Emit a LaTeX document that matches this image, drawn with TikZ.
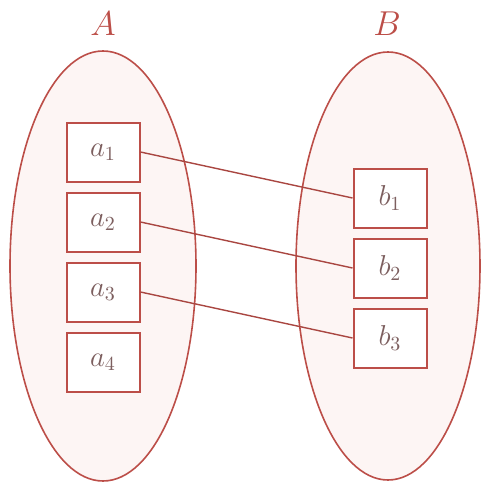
\documentclass[tikz,border=0pt]{standalone}
\usepackage{amsmath}
\usetikzlibrary{shapes.geometric, positioning}

\definecolor{setred}{RGB}{188,78,72}
\definecolor{setfill}{RGB}{253,245,244}
\definecolor{elemtext}{RGB}{125,95,95}

\begin{document}
\begin{tikzpicture}[
    x=0.5pt, y=-0.5pt,
    node distance=4.5pt,
    % Estilos
    setshape/.style={ellipse, draw=setred, fill=setfill, line width=0.8pt, inner sep=0pt},
    elembox/.style={rectangle, draw=setred, fill=white, line width=1pt, minimum width=36.5pt, minimum height=29.5pt, inner sep=0pt, text=elemtext, font=\Large},
    setlabel/.style={text=setred, font=\LARGE},
    mapline/.style={draw=setred!90!black, line width=0.7pt}
]
\useasboundingbox (0,0) rectangle (482,483);

% -------------------------
% CONJUNTOS
% -------------------------
\node[setshape, minimum width=93pt, minimum height=215pt] (setA) at (103,266) {};
\node[setshape, minimum width=92pt, minimum height=214pt] (setB) at (388,266) {};

\node[setlabel] (labA) at (103,24) {$A$};
\node[setlabel] (labB) at (387,24) {$B$};

% -------------------------
% ELEMENTOS DE A
% -------------------------
\node[elembox] (a1) at (103,152) {$a_1$};
\node[elembox, below=of a1] (a2) {$a_2$};
\node[elembox, below=of a2] (a3) {$a_3$};
\node[elembox, below=of a3] (a4) {$a_4$};

% -------------------------
% ELEMENTOS DE B
% -------------------------
\node[elembox] (b1) at (390,198) {$b_1$};
\node[elembox, below=of b1] (b2) {$b_2$};
\node[elembox, below=of b2] (b3) {$b_3$};

% Correspondencia
\draw[mapline] (a1.east) -- (b1.west);
\draw[mapline] (a2.east) -- (b2.west);
\draw[mapline] (a3.east) -- (b3.west);

\end{tikzpicture}
\end{document}
